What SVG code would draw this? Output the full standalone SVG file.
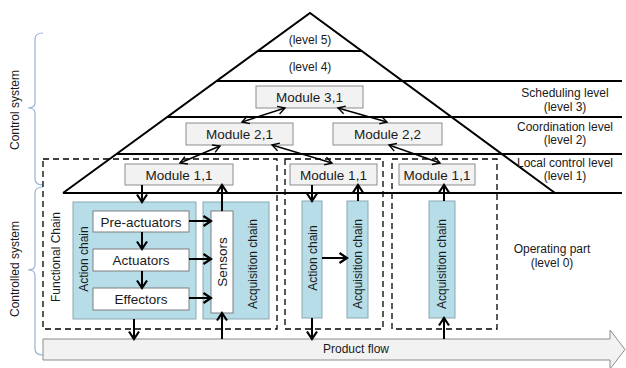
<svg xmlns="http://www.w3.org/2000/svg" width="626" height="368" viewBox="0 0 626 368">
<style>
text{font-family:"Liberation Sans",Arial,sans-serif;fill:#1a1a1a}
.t12{font-size:12px}
.t13{font-size:13.5px}
.mod{fill:#f2f2f2;stroke:#8c8c8c;stroke-width:1}
.blue{fill:#b7dde8;stroke:#8aa7b0;stroke-width:1}
.white{fill:#ffffff;stroke:#7f7f7f;stroke-width:1}
.dash{fill:none;stroke:#000;stroke-width:1.3;stroke-dasharray:6,4}
.pyr{fill:none;stroke:#000;stroke-width:2}
.thick{fill:none;stroke:#000;stroke-width:2;marker-end:url(#ah)}
.thin{fill:none;stroke:#000;stroke-width:1.4;marker-start:url(#ahs);marker-end:url(#ahs)}
.brace{fill:none;stroke:#95b3d7;stroke-width:1.2}
</style>
<defs>
<marker id="ah" markerUnits="userSpaceOnUse" markerWidth="12" markerHeight="12" refX="9" refY="6" orient="auto">
<path d="M1.5,1 L9,6 L1.5,11" fill="none" stroke="#000" stroke-width="2.2"/>
</marker>
<marker id="ahs" markerUnits="userSpaceOnUse" markerWidth="10" markerHeight="10" refX="8" refY="5" orient="auto-start-reverse">
<path d="M1,1 L8,5 L1,9" fill="none" stroke="#000" stroke-width="1.4"/>
</marker>
</defs>
<rect width="626" height="368" fill="#fff"/>

<g id="pyramid">
<path class="pyr" d="M63,193 L310,13 L555,193"/>
<line class="pyr" x1="258" y1="51" x2="361" y2="51"/>
<line class="pyr" x1="216" y1="81" x2="622" y2="81"/>
<line class="pyr" x1="167" y1="117" x2="622" y2="117"/>
<line class="pyr" x1="116" y1="154" x2="622" y2="154"/>
<line class="pyr" x1="63" y1="193" x2="622" y2="193"/>
<text class="t12" x="310" y="44" text-anchor="middle">(level 5)</text>
<text class="t12" x="310" y="71" text-anchor="middle">(level 4)</text>
</g>

<g id="level-labels">
<text class="t12" x="565" y="97" text-anchor="middle">Scheduling level</text>
<text class="t12" x="565" y="111" text-anchor="middle">(level 3)</text>
<text class="t12" x="565" y="131" text-anchor="middle">Coordination level</text>
<text class="t12" x="565" y="144" text-anchor="middle">(level 2)</text>
<text class="t12" x="565" y="167" text-anchor="middle">Local control level</text>
<text class="t12" x="565" y="180" text-anchor="middle">(level 1)</text>
<text class="t12" x="552" y="253" text-anchor="middle">Operating part</text>
<text class="t12" x="552" y="267" text-anchor="middle">(level 0)</text>
</g>

<g id="control-system">
<path class="brace" d="M43,33 Q35,33 35,39 L35,103 Q35,108 28,108 Q35,108 35,113 L35,179 Q35,185 43,185"/>
<text class="t12" transform="translate(19,110) rotate(-90)" text-anchor="middle">Control system</text>
</g>
<g id="controlled-system">
<path class="brace" d="M43,187 Q35,187 35,193 L35,265 Q35,270 28,270 Q35,270 35,275 L35,349 Q35,355 43,355"/>
<text class="t12" transform="translate(19,269) rotate(-90)" text-anchor="middle">Controlled system</text>
</g>

<g id="product-flow">
<path d="M43,339 L610,339 L610,330 L625,349.5 L610,369 L610,360 L43,360 Z" fill="#f2f2f2" stroke="#8c8c8c" stroke-width="1"/>
<text class="t12" x="356" y="353" text-anchor="middle">Product flow</text>
</g>

<g id="functional-chain-1">
<rect class="dash" x="43" y="159" width="234" height="170"/>
<text class="t12" transform="translate(60,257) rotate(-90)" text-anchor="middle">Functional Chain</text>
</g>
<g id="functional-chain-2">
<rect class="dash" x="285" y="159" width="98" height="170"/>
</g>
<g id="functional-chain-3">
<rect class="dash" x="392" y="159" width="105" height="170"/>
</g>

<g id="module-3-1">
<rect class="mod" x="256" y="86" width="107" height="22"/>
<text class="t13" x="309.5" y="102" text-anchor="middle">Module 3,1</text>
</g>
<g id="module-2-1">
<rect class="mod" x="186" y="123" width="107" height="22"/>
<text class="t13" x="239.5" y="139" text-anchor="middle">Module 2,1</text>
</g>
<g id="module-2-2">
<rect class="mod" x="333" y="123" width="109" height="22"/>
<text class="t13" x="387.5" y="139" text-anchor="middle">Module 2,2</text>
</g>
<g id="module-1-1-a">
<rect class="mod" x="125" y="164" width="108" height="21"/>
<text class="t13" x="179" y="179.5" text-anchor="middle">Module 1,1</text>
</g>
<g id="module-1-1-b">
<rect class="mod" x="290" y="164" width="87" height="21"/>
<text class="t13" x="333.5" y="179.5" text-anchor="middle">Module 1,1</text>
</g>
<g id="module-1-1-c">
<rect class="mod" x="399" y="164" width="76" height="21"/>
<text class="t13" x="437" y="179.5" text-anchor="middle">Module 1,1</text>
</g>

<g id="action-chain-1">
<rect class="blue" x="73" y="202" width="123" height="117"/>
<text class="t12" transform="translate(88,259) rotate(-90)" text-anchor="middle">Action chain</text>
</g>
<g id="pre-actuators">
<rect class="white" x="93" y="211" width="96" height="21"/>
<text class="t13" x="141" y="226.5" text-anchor="middle">Pre-actuators</text>
</g>
<g id="actuators">
<rect class="white" x="93" y="249" width="96" height="22"/>
<text class="t13" x="141" y="265" text-anchor="middle">Actuators</text>
</g>
<g id="effectors">
<rect class="white" x="93" y="288" width="96" height="22"/>
<text class="t13" x="141" y="304" text-anchor="middle">Effectors</text>
</g>
<g id="acquisition-chain-1">
<rect class="blue" x="203" y="202" width="66" height="117"/>
<text class="t12" transform="translate(257,264) rotate(-90)" text-anchor="middle">Acquisition chain</text>
</g>
<g id="sensors">
<rect class="white" x="211" y="211" width="22" height="102"/>
<text class="t13" transform="translate(227,262) rotate(-90)" text-anchor="middle">Sensors</text>
</g>

<g id="action-chain-2">
<rect class="blue" x="302" y="201" width="20" height="117"/>
<text class="t12" transform="translate(316.5,258) rotate(-90)" text-anchor="middle">Action chain</text>
</g>
<g id="acquisition-chain-2">
<rect class="blue" x="347" y="201" width="21" height="117"/>
<text class="t12" transform="translate(361.5,264) rotate(-90)" text-anchor="middle">Acquisition chain</text>
</g>
<g id="acquisition-chain-3">
<rect class="blue" x="429" y="201" width="26" height="117"/>
<text class="t12" transform="translate(446,264) rotate(-90)" text-anchor="middle">Acquisition chain</text>
</g>

<g id="connectors">
<line class="thin" x1="285" y1="108" x2="242" y2="122"/>
<line class="thin" x1="338" y1="108" x2="387" y2="122"/>
<line class="thin" x1="220" y1="146" x2="180" y2="163"/>
<line class="thin" x1="272" y1="145" x2="332" y2="163"/>
<line class="thin" x1="389" y1="145" x2="440" y2="163"/>

<line class="thick" x1="142" y1="185" x2="142" y2="202"/>
<line class="thick" x1="142" y1="232" x2="142" y2="249"/>
<line class="thick" x1="142" y1="271" x2="142" y2="288"/>
<line class="thick" x1="134" y1="319" x2="134" y2="339"/>
<line class="thick" x1="222" y1="339" x2="222" y2="313"/>
<line class="thick" x1="222" y1="211" x2="222" y2="185"/>
<line class="thick" x1="189" y1="221" x2="211" y2="221"/>
<line class="thick" x1="189" y1="259" x2="211" y2="259"/>
<line class="thick" x1="189" y1="298" x2="211" y2="298"/>

<line class="thick" x1="312" y1="185" x2="312" y2="201"/>
<line class="thick" x1="322" y1="258" x2="347" y2="258"/>
<line class="thick" x1="358" y1="201" x2="358" y2="185"/>
<line class="thick" x1="312" y1="318" x2="312" y2="339"/>

<line class="thick" x1="444" y1="339" x2="444" y2="318"/>
<line class="thick" x1="444" y1="201" x2="444" y2="185"/>
</g>
</svg>
